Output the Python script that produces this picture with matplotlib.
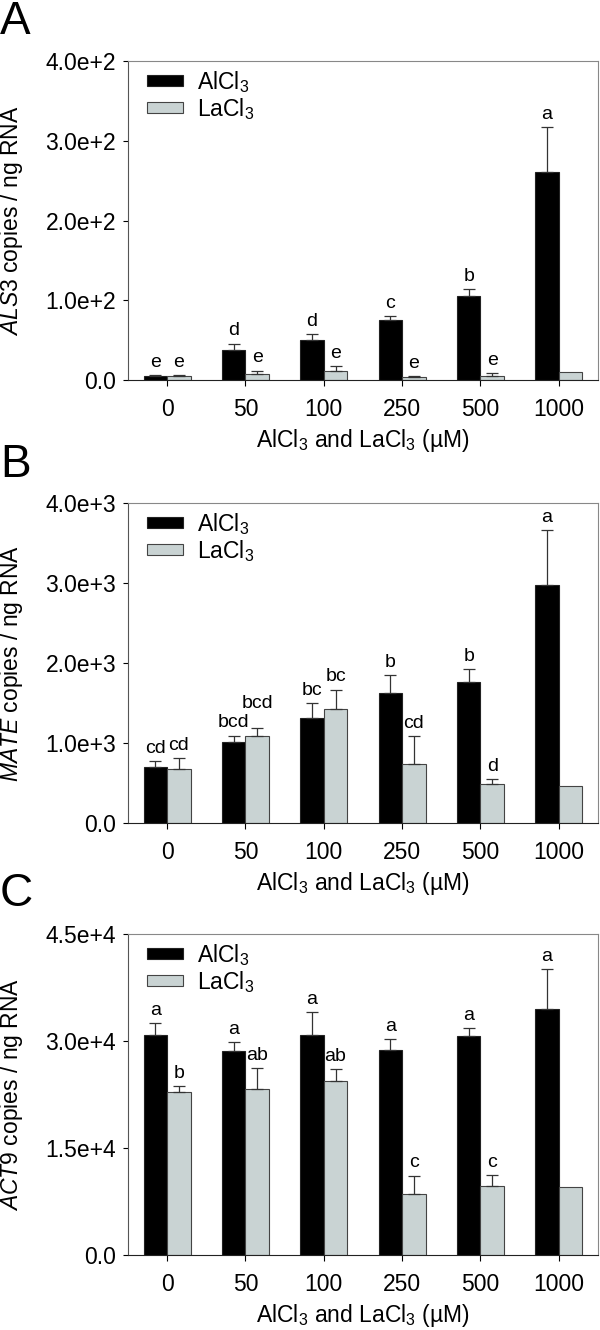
import numpy as np
import matplotlib
matplotlib.use('Agg')
from matplotlib import pyplot as plt
from matplotlib.ticker import FuncFormatter, MultipleLocator

plt.rcParams['font.family'] = ['Liberation Sans', 'DejaVu Sans']
plt.rcParams['mathtext.fontset'] = 'custom'
plt.rcParams['mathtext.rm'] = 'Liberation Sans'
plt.rcParams['mathtext.it'] = 'Liberation Sans:italic'

# concentrations (uM)
groups = ['0', '50', '100', '250', '500', '1000']

# ALS3
als3_al = [5, 37.6, 50.5, 74.7, 105.2, 260.5]
als3_al_err = [1, 8, 7, 5, 8.4, 56.5]
als3_la = [4.6, 8, 11.7, 3.8, 5, 9.6]
als3_la_err = [1.7, 3.7, 5.4, 0.8, 3.4, 0]
als3_al_let = ['e', 'd', 'd', 'c', 'b', 'a']
als3_la_let = ['e', 'e', 'e', 'e', 'e', '']

# MATE
mate_al = [704, 1008, 1312, 1621, 1758, 2971]
mate_al_err = [75, 84, 188, 229, 171, 692]
mate_la = [675, 1088, 1429, 742, 483, 463]
mate_la_err = [137, 95, 238, 346, 67, 0]
mate_al_let = ['cd', 'bcd', 'bc', 'b', 'b', 'a']
mate_la_let = ['cd', 'bcd', 'bc', 'cd', 'd', '']

# ACT9
act9_al = [30830, 28580, 30830, 28670, 30690, 34430]
act9_al_err = [1640, 1310, 3270, 1640, 1120, 5610]
act9_la = [22870, 23200, 24370, 8610, 9640, 9500]
act9_la_err = [750, 3040, 1680, 2530, 1540, 0]
act9_al_let = ['a', 'a', 'a', 'a', 'a', 'a']
act9_la_let = ['b', 'ab', 'ab', 'c', 'c', '']

gray = '#c9d3d3'


def sci(v, pos):
    if v == 0:
        return '0.0'
    m, e = ('%.1e' % v).split('e')
    return '%se+%d' % (m, int(e))


def panel(ax, al, al_err, la, la_err, al_let, la_let, ymax, ystep, gene, lift=None):
    lift = lift or {}
    x = np.arange(len(groups))
    w = 0.3
    ax.bar(x - w / 2, al, w, color='black', edgecolor='#222222', lw=0.8, label=r'AlCl$_3$', zorder=2)
    ax.bar(x + w / 2, la, w, color=gray, edgecolor='#444444', lw=0.8, label=r'LaCl$_3$', zorder=2)
    for s, xs, vals, errs, lets in [(0, x - w / 2, al, al_err, al_let), (1, x + w / 2, la, la_err, la_let)]:
        for i, (xi, v, e, t) in enumerate(zip(xs, vals, errs, lets)):
            if e > 0:
                ax.errorbar(xi, v, yerr=[[0], [e]], fmt='none', ecolor='#333333',
                            elinewidth=0.9, capsize=4, capthick=0.9, zorder=3)
            if t:
                # letters sitting on neighbouring bars are lifted a bit so they do not touch
                dy = 3 + lift.get((s, i), 0)
                ax.annotate(t, (xi, v + e), xytext=(0, dy), textcoords='offset points',
                            ha='center', va='bottom', fontsize=14)
    ax.set_xlim(-0.5, 5.5)
    ax.set_ylim(0, ymax)
    ax.yaxis.set_major_locator(MultipleLocator(ystep))
    ax.yaxis.set_major_formatter(FuncFormatter(sci))
    ax.set_xticks(x)
    ax.set_xticklabels(groups)
    ax.tick_params(axis='x', direction='out', length=4, width=0.8, pad=9, labelsize=16.5)
    ax.tick_params(axis='y', direction='out', length=3.5, width=0.8, pad=5, labelsize=16.5)
    ax.spines['top'].set_color('#888888')
    ax.spines['right'].set_color('#888888')
    ax.spines['left'].set_color('#555555')
    ax.spines['bottom'].set_color('#222222')
    ax.set_xlabel(r'AlCl$_3$ and LaCl$_3$ (µM)', fontsize=16.5, labelpad=4)
    ax.set_ylabel(r'$\mathit{%s}$ copies / ng RNA' % gene, fontsize=16.5)
    ax.yaxis.set_label_coords(-0.22, 0.5)
    ax.legend(loc='upper left', bbox_to_anchor=(0.03, 0.99), frameon=False, fontsize=16.5,
              handlelength=1.6, handleheight=0.4, labelspacing=0.05, handletextpad=0.6,
              borderaxespad=0, borderpad=0.2)


fig = plt.figure(figsize=(6, 13.3), dpi=100)
axA = fig.add_axes([0.2133, 0.7143, 0.7833, 0.2398])
axB = fig.add_axes([0.2133, 0.3812, 0.7833, 0.2406])
axC = fig.add_axes([0.2133, 0.0564, 0.7833, 0.2414])

panel(axA, als3_al, als3_al_err, als3_la, als3_la_err, als3_al_let, als3_la_let, 400, 100, 'ALS3')
panel(axB, mate_al, mate_al_err, mate_la, mate_la_err, mate_al_let, mate_la_let, 4000, 1000, 'MATE',
      lift={(1, 1): 9})
panel(axC, act9_al, act9_al_err, act9_la, act9_la_err, act9_al_let, act9_la_let, 45000, 15000, 'ACT9')

fig.text(0.0, 1 - 0 / 1330, 'A', fontsize=33, va='top', ha='left')
fig.text(0.0, 1 - 443 / 1330, 'B', fontsize=33, va='top', ha='left')
fig.text(0.0, 1 - 872 / 1330, 'C', fontsize=33, va='top', ha='left')

fig.savefig('out.png', dpi=100)
